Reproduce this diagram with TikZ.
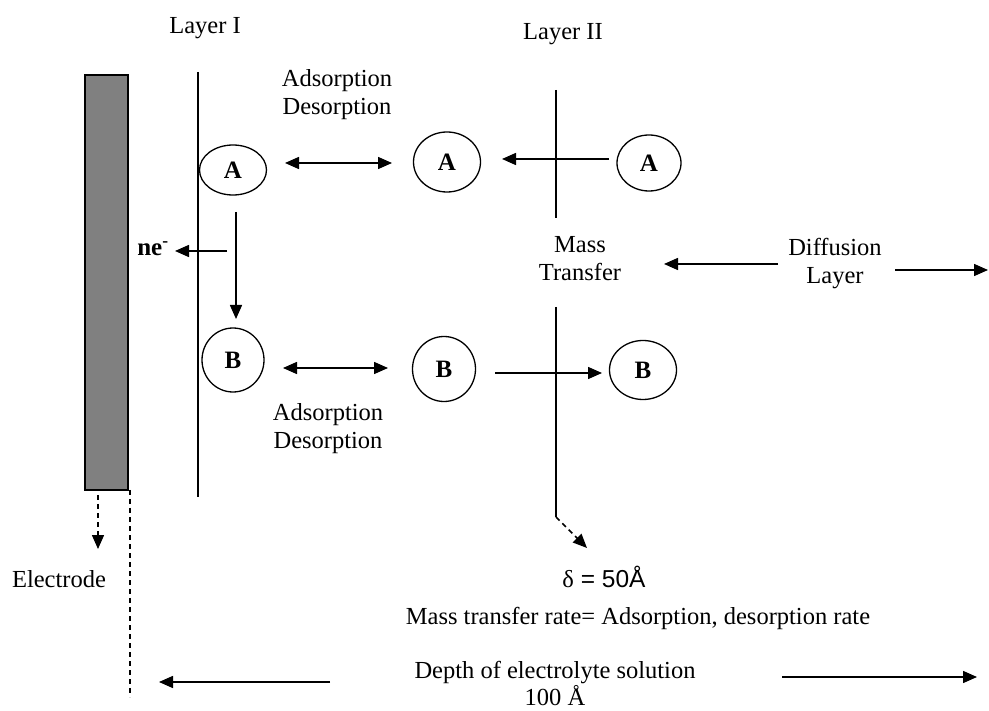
\documentclass[tikz,border=0pt]{standalone}
\usepackage{fontspec}
\setmainfont{Liberation Serif}
\newfontfamily\arialfont{Liberation Sans}
\usetikzlibrary{shapes.geometric,arrows.meta}
\definecolor{elgray}{RGB}{128,128,128}
\begin{document}
\begin{tikzpicture}[x=1pt,y=-1pt,
  lbl/.style={font=\fontsize{24.5}{28}\selectfont, align=center, inner sep=0pt},
  mol/.style={ellipse, draw, line width=1.3pt, inner sep=0pt, font=\fontsize{25}{28}\selectfont\bfseries},
  arr/.style={line width=1.5pt, -{Triangle[length=14pt,width=12pt]}},
  dbl/.style={line width=1.5pt, {Triangle[length=14pt,width=12pt]}-{Triangle[length=14pt,width=12pt]}},
  ln/.style={line width=1.3pt},
  dsh/.style={line width=1.5pt, dash pattern=on 5pt off 4pt}]
\useasboundingbox (0,0) rectangle (989,711);
\fill[white] (0,0) rectangle (989,711);

% electrode
\node[draw, fill=elgray, line width=1.5pt, minimum width=43pt, minimum height=415pt, inner sep=0pt] (elec) at (106.5,282.5) {};

% layer lines
\coordinate (L1t) at (198,72);  \coordinate (L1b) at (198,497);
\draw[ln] (L1t) -- (L1b);
\coordinate (L2t) at (556,90);  \coordinate (L2m) at (556,218);
\coordinate (L2n) at (556,307); \coordinate (L2b) at (556,517);
\coordinate (L2e) at (587,548);
\draw[ln] (L2t) -- (L2m);
\draw[ln] (L2n) -- (L2b);
\draw[dsh, -{Triangle[length=14pt,width=12pt]}] (L2b) -- (L2e);

% dashed markers below electrode
\coordinate (E1) at (98,495); \coordinate (E2) at (98,549);
\draw[dsh, -{Triangle[length=14pt,width=12pt]}] (E1) -- (E2);
\coordinate (D1) at (130,490); \coordinate (D2) at (130,697);
\draw[dsh] (D1) -- (D2);

% molecules
\node[mol, minimum width=67pt, minimum height=50pt] (A1) at (233,170) {A};
\node[mol, minimum width=67pt, minimum height=60pt] (A2) at (447,162) {A};
\node[mol, minimum width=64pt, minimum height=56pt] (A3) at (649,163) {A};
\node[mol, minimum width=62pt, minimum height=64pt] (B1) at (233,360) {B};
\node[mol, minimum width=63pt, minimum height=65pt] (B2) at (444,369) {B};
\node[mol, minimum width=67pt, minimum height=59pt] (B3) at (643,370) {B};

% texts
\node[lbl] (layer1) at (205,28) {Layer I};
\node[lbl] (layer2) at (563,34) {Layer II};
\node[lbl] (ad1) at (337,95) {Adsorption\\Desorption};
\node[lbl] (ad2) at (328,429) {Adsorption\\Desorption};
\node[lbl] (mt) at (580,259) {Mass\\Transfer};
\node[lbl] (dl) at (835,264) {Diffusion\\Layer};
\node[lbl] (eltxt) at (59,579) {Electrode};
\node[lbl] (delta) at (604,577) {δ{\arialfont\ = 50Å}};
\node[lbl] (rate) at (638,618) {Mass transfer rate= Adsorption, desorption rate};
\node[lbl, font=\fontsize{24.5}{27}\selectfont] (depth) at (555,683) {Depth of electrolyte solution\\100 Å};
\node[lbl, font=\fontsize{25}{28}\selectfont\bfseries] (ne) at (153,249) {ne\textsuperscript{-}};

% arrows
\coordinate (a1) at (285,163); \coordinate (a2) at (392,163);
\draw[dbl] (a1) -- (a2);
\coordinate (b1) at (283,368); \coordinate (b2) at (388,368);
\draw[dbl] (b1) -- (b2);
\coordinate (a3s) at (609,159); \coordinate (a2e) at (502,159);
\draw[arr] (a3s) -- (a2e);
\coordinate (b2s) at (495,373); \coordinate (b3e) at (602,373);
\draw[arr] (b2s) -- (b3e);
\coordinate (ab1) at (236,212); \coordinate (ab2) at (236,319);
\draw[arr] (ab1) -- (ab2);
\coordinate (ne1) at (227,251); \coordinate (ne2) at (175,251);
\draw[arr] (ne1) -- (ne2);
\coordinate (m1) at (778,264); \coordinate (m2) at (664,264);
\draw[arr] (m1) -- (m2);
\coordinate (r1) at (895,270); \coordinate (r2) at (988,270);
\draw[arr] (r1) -- (r2);
\coordinate (bl1) at (330,682); \coordinate (bl2) at (159,682);
\draw[arr] (bl1) -- (bl2);
\coordinate (br1) at (782,677); \coordinate (br2) at (977,677);
\draw[arr] (br1) -- (br2);
\end{tikzpicture}
\end{document}
